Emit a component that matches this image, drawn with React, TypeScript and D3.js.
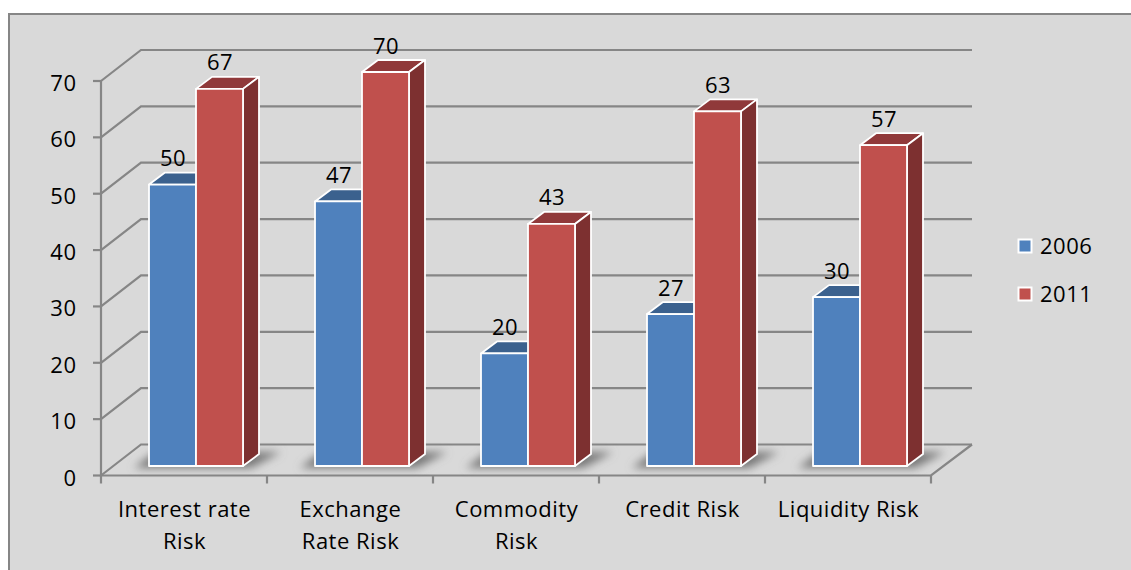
import React from "react";
import * as d3 from "d3";

const categories = [["Interest rate", "Risk"], ["Exchange", "Rate Risk"], ["Commodity", "Risk"], ["Credit Risk"], ["Liquidity Risk"]];
const seriesNames = ["2006", "2011"];
const values2006 = [50, 47, 20, 27, 30];
const values2011 = [67, 70, 43, 63, 57];
const yTicks = [0, 10, 20, 30, 40, 50, 60, 70];

const FONT = "'Open Sans', Carlito, Calibri, sans-serif";
const AXIS = "#868686";
const W = 1131, H = 570;
const x0 = 101, x1 = 931, y0 = 475.5, yTop = 81;
const dx = 40, dy = -31;
const barW = 47, bdx = 16, bdy = -12, baseY = 466, barOffset = 48;

const yAxis = d3.scaleLinear().domain([0, 70]).range([y0, yTop]);
const barH = d3.scaleLinear().domain([0, 70]).range([0, 394]);
const xBand = d3.scaleBand<number>().domain(d3.range(categories.length)).range([x0, x1]);

const poly = (pts: number[][]) => "M" + pts.map(p => p.join(",")).join("L") + "Z";

function Bar({ x, v, front, top, side }: { x: number; v: number; front: string; top: string; side: string }) {
  const yb = baseY - barH(v);
  return (
    <g stroke="#fff" strokeWidth={1.8} strokeLinejoin="round">
      <path d={poly([[x, yb], [x + bdx, yb + bdy], [x + barW + bdx, yb + bdy], [x + barW, yb]])} fill={top} />
      <path d={poly([[x + barW, yb], [x + barW + bdx, yb + bdy], [x + barW + bdx, baseY + bdy], [x + barW, baseY]])} fill={side} />
      <rect x={x} y={yb} width={barW} height={barH(v)} fill={front} />
    </g>
  );
}

export default function App() {
  return (
    <svg width={W} height={H} style={{ position: "absolute", left: 0, top: 0, display: "block" }} fontFamily={FONT} letterSpacing={0.5}>
      <defs>
        <filter id="blur" x="-30%" y="-100%" width="160%" height="300%">
          <feGaussianBlur stdDeviation="4" />
        </filter>
      </defs>
      <rect width={W} height={H} fill="#fff" />
      <rect x={9} y={14} width={W + 20} height={H + 20} fill="#d9d9d9" stroke={AXIS} strokeWidth={2} />

      {/* gridlines */}
      <g fill="none" stroke={AXIS} strokeWidth={2.2}>
        {yTicks.map(t => (
          <path key={t} d={`M${x0},${yAxis(t)}L${x0 + dx},${yAxis(t) + dy}L${x1 + dx + 1},${yAxis(t) + dy}`} />
        ))}
        <path d={`M${x1 + dx + 1},${y0 + dy}L${x1},${y0}L${x0},${y0}L${x0},${yTop}`} />
        {yTicks.map(t => <path key={t} d={`M${x0 - 8},${yAxis(t)}H${x0}`} />)}
        {d3.range(categories.length + 1).map(i => {
          const x = i === categories.length ? x1 : xBand(i)!;
          return <path key={i} d={`M${x},${y0}V${y0 + 8}`} />;
        })}
      </g>

      {/* floor shadows */}
      {categories.map((_, i) => {
        const x = xBand(i)! + barOffset;
        return (
          <path key={i} filter="url(#blur)" fill="#787878"
            d={poly([[x - 15, baseY + 2], [x + 6, baseY - 14], [x + 2 * barW + bdx + 22, baseY - 14], [x + 2 * barW + 8, baseY + 2]])} />
        );
      })}

      {/* bars */}
      {categories.map((_, i) => {
        const x = xBand(i)! + barOffset;
        return (
          <g key={i}>
            <Bar x={x} v={values2006[i]} front="#4f81bd" top="#3b618e" side="#2f4d71" />
            <Bar x={x + barW} v={values2011[i]} front="#c0504d" top="#90393a" side="#7d3030" />
          </g>
        );
      })}

      {/* data labels */}
      <g fontSize={22} fill="#000" textAnchor="middle">
        {categories.map((_, i) => {
          const x = xBand(i)! + barOffset;
          return (
            <g key={i}>
              <text x={x + 24} y={baseY - barH(values2006[i]) - 18.5}>{values2006[i]}</text>
              <text x={x + barW + 24} y={baseY - barH(values2011[i]) - 18.5}>{values2011[i]}</text>
            </g>
          );
        })}
      </g>

      {/* y tick labels */}
      <g fontSize={22} fill="#000" textAnchor="end">
        {yTicks.map(t => <text key={t} x={76.5} y={yAxis(t) + 10}>{t}</text>)}
      </g>

      {/* category labels */}
      <g fontSize={22} fill="#000" textAnchor="middle">
        {categories.map((lines, i) => {
          const cx = xBand(i)! + xBand.bandwidth() / 2 + 0.5;
          return (
            <text key={i} x={cx} y={517}>
              {lines.map((l, j) => <tspan key={j} x={cx} y={517 + j * 32}>{l}</tspan>)}
            </text>
          );
        })}
      </g>

      {/* legend */}
      {seriesNames.map((s, i) => (
        <g key={s}>
          <rect x={1018.5} y={239.5 + i * 48} width={13} height={13} fill={i === 0 ? "#4f81bd" : "#c0504d"} stroke="#fff" strokeWidth={2} />
          <text x={1040} y={254 + i * 48} fontSize={22} fill="#000">{s}</text>
        </g>
      ))}
    </svg>
  );
}
